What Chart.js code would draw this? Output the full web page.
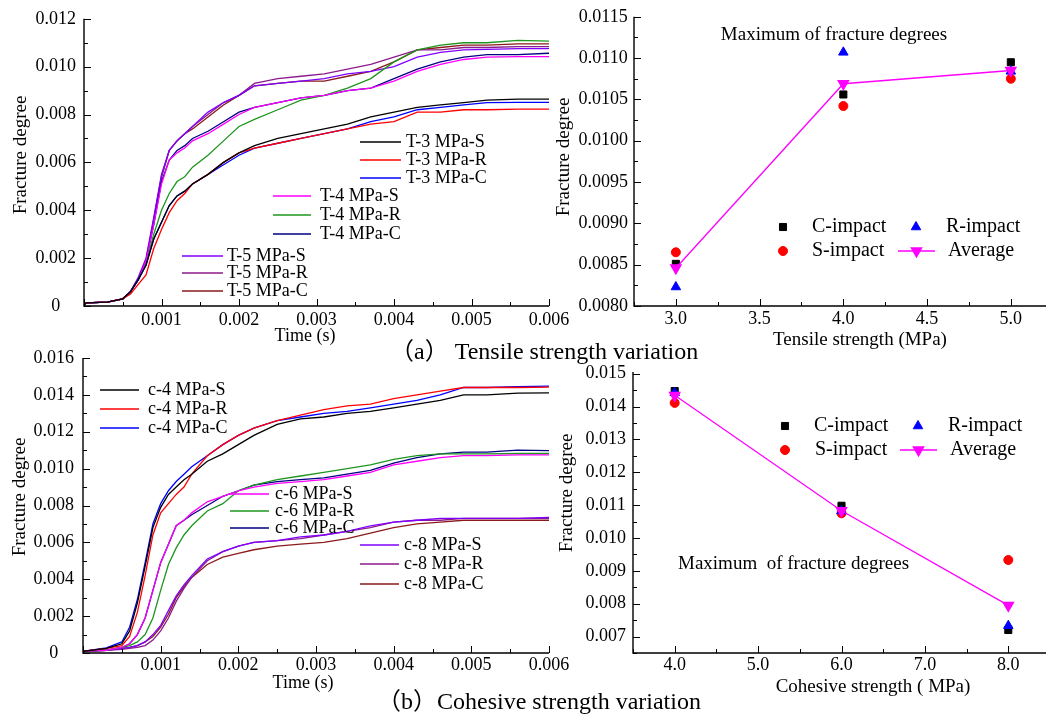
<!DOCTYPE html>
<html>
<head>
<meta charset="utf-8">
<title>Fracture degree</title>
<script src="https://cdn.jsdelivr.net/npm/chart.js@4.4.1/dist/chart.umd.min.js"></script>
<style>
  html, body { margin: 0; padding: 0; background: #fff; }
  body { position: relative; width: 1046px; height: 714px; overflow: hidden;
         font-family: 'Liberation Serif', 'Times New Roman', 'Noto Sans CJK SC', serif; color: #000; }
  canvas { position: absolute; left: 0; top: 0; }
  .txt { position: absolute; white-space: pre; line-height: 1; font-size: 19px; }
  .mid { transform: translate(-50%, -50%); }
  .lft { transform: translateY(-50%); }
  .up { transform: translate(-50%, -50%) rotate(-90deg); }
  .cap { font-size: 24px; }
</style>
</head>
<body>
<canvas id="tlChart" width="1060" height="714"></canvas>
<canvas id="trChart" width="1060" height="714"></canvas>
<canvas id="blChart" width="1060" height="714"></canvas>
<canvas id="brChart" width="1060" height="714"></canvas>

<div class="txt up" style="left:19px;top:155px">Fracture degree</div>
<div class="txt mid" style="left:305px;top:335px;font-size:18px">Time (s)</div>
<div class="txt up" style="left:562px;top:157px">Fracture degree</div>
<div class="txt mid" style="left:860px;top:338px">Tensile strength (MPa)</div>
<div class="txt mid" style="left:834px;top:33px">Maximum of fracture degrees</div>
<div class="txt lft cap" style="left:390px;top:351px">（a） Tensile strength variation</div>

<div class="txt up" style="left:18px;top:497px">Fracture degree</div>
<div class="txt mid" style="left:303px;top:682px;font-size:18px">Time (s)</div>
<div class="txt up" style="left:565px;top:493px">Fracture degree</div>
<div class="txt mid" style="left:873px;top:685px">Cohesive strength ( MPa)</div>
<div class="txt lft" style="left:678px;top:562px">Maximum  of fracture degrees</div>
<div class="txt lft cap" style="left:377px;top:701px">（b）Cohesive strength variation</div>

<script>
// sample times (s) shared by every curve
var timeSteps = [0, 0.00002, 0.0003, 0.0005, 0.0006, 0.0007, 0.0008, 0.0009, 0.001, 0.0011,
  0.0012, 0.0013, 0.0014, 0.0016, 0.0018, 0.002, 0.0022, 0.0025, 0.0028, 0.0031,
  0.0034, 0.0037, 0.004, 0.0043, 0.0046, 0.0049, 0.0052, 0.0056, 0.006];

// tensile strength runs
var t3S = [0, 0.00013, 0.00016, 0.0003, 0.0006, 0.0011, 0.0017, 0.0028, 0.0035, 0.0042,
  0.0046, 0.0048, 0.0051, 0.0055, 0.0060, 0.0064, 0.0067, 0.0070, 0.0072, 0.0074,
  0.0076, 0.0079, 0.0081, 0.0083, 0.0084, 0.0085, 0.0086, 0.00864, 0.00864];
var t3R = [0, 0.00013, 0.00016, 0.0003, 0.0005, 0.0009, 0.0013, 0.0024, 0.0032, 0.0039,
  0.0044, 0.0047, 0.0051, 0.0055, 0.0060, 0.0064, 0.0066, 0.0068, 0.0070, 0.0072,
  0.0074, 0.0076, 0.0077, 0.0081, 0.0081, 0.0082, 0.0082, 0.00823, 0.00823];
var t3C = [0, 0.00013, 0.00016, 0.0003, 0.0006, 0.0011, 0.0017, 0.0028, 0.0035, 0.0042,
  0.0046, 0.0048, 0.0051, 0.0055, 0.0059, 0.0063, 0.0066, 0.0068, 0.0070, 0.0072,
  0.0074, 0.0077, 0.0079, 0.0082, 0.0083, 0.0084, 0.0085, 0.00851, 0.00851];
var t4S = [0, 0.00013, 0.00016, 0.0003, 0.0006, 0.0011, 0.0019, 0.0034, 0.0051, 0.0061,
  0.0064, 0.0066, 0.0069, 0.0072, 0.0076, 0.0080, 0.0083, 0.0085, 0.0087, 0.0088,
  0.0090, 0.0091, 0.0094, 0.0098, 0.0101, 0.0103, 0.0104, 0.01042, 0.01042];
var t4R = [0, 0.00013, 0.00016, 0.0003, 0.0006, 0.0011, 0.0018, 0.0030, 0.0040, 0.0047,
  0.0052, 0.0054, 0.0058, 0.0063, 0.0069, 0.0075, 0.0078, 0.0082, 0.0086, 0.0088,
  0.0091, 0.0095, 0.0102, 0.0107, 0.0109, 0.0110, 0.0110, 0.0111, 0.01107];
var t4C = [0, 0.00013, 0.00016, 0.0003, 0.0006, 0.0011, 0.0019, 0.0034, 0.0052, 0.0061,
  0.0065, 0.0067, 0.0070, 0.0073, 0.0077, 0.0081, 0.0083, 0.0085, 0.0087, 0.0088,
  0.0090, 0.0091, 0.0095, 0.0099, 0.0102, 0.0104, 0.0105, 0.0105, 0.01056];
var t5S = [0, 0.00013, 0.00016, 0.0003, 0.0006, 0.0012, 0.0020, 0.0037, 0.0055, 0.0065,
  0.0069, 0.0072, 0.0075, 0.0081, 0.0085, 0.0088, 0.0092, 0.0093, 0.0094, 0.0095,
  0.0097, 0.0098, 0.0100, 0.0104, 0.0106, 0.0107, 0.01072, 0.01075, 0.01075];
var t5R = [0, 0.00013, 0.00016, 0.0003, 0.0006, 0.0011, 0.0019, 0.0036, 0.0054, 0.0065,
  0.0069, 0.0072, 0.0075, 0.0080, 0.0085, 0.0088, 0.0093, 0.0095, 0.0096, 0.0097,
  0.0099, 0.0101, 0.0104, 0.0107, 0.0107, 0.0108, 0.0108, 0.01084, 0.01084];
var t5C = [0, 0.00013, 0.00016, 0.0003, 0.0006, 0.0011, 0.0019, 0.0036, 0.0054, 0.0065,
  0.0069, 0.0072, 0.0074, 0.0079, 0.0084, 0.0088, 0.0092, 0.0093, 0.0094, 0.0094,
  0.0096, 0.0098, 0.0102, 0.0107, 0.0108, 0.0109, 0.0109, 0.01095, 0.01095];

// cohesive strength runs
var c4S = [0, 0.0001, 0.00025, 0.0005, 0.0012, 0.0027, 0.0047, 0.0068, 0.0079, 0.0086,
  0.0090, 0.0094, 0.0097, 0.0104, 0.0108, 0.0113, 0.0118, 0.0124, 0.0127, 0.0128,
  0.0130, 0.0131, 0.0133, 0.0135, 0.0137, 0.0140, 0.0140, 0.0141, 0.01411];
var c4R = [0, 0.0001, 0.00025, 0.0004, 0.0009, 0.0022, 0.0042, 0.0064, 0.0076, 0.0081,
  0.0086, 0.0090, 0.0097, 0.0107, 0.0113, 0.0118, 0.0122, 0.0126, 0.0129, 0.0132,
  0.0134, 0.0135, 0.0138, 0.0140, 0.0142, 0.0144, 0.0144, 0.0144, 0.01442];
var c4C = [0, 0.0001, 0.00028, 0.0006, 0.0014, 0.0029, 0.0049, 0.0070, 0.0081, 0.0088,
  0.0093, 0.0097, 0.0101, 0.0107, 0.0113, 0.0118, 0.0122, 0.0126, 0.0128, 0.0130,
  0.0131, 0.0133, 0.0135, 0.0137, 0.0140, 0.0144, 0.0144, 0.01445, 0.01447];
var c6S = [0, 0.0001, 0.00015, 0.0003, 0.0005, 0.0010, 0.0019, 0.0034, 0.0049, 0.0059,
  0.0069, 0.0072, 0.0076, 0.0082, 0.0085, 0.0088, 0.0090, 0.0092, 0.0093, 0.0094,
  0.0096, 0.0098, 0.0102, 0.0104, 0.0106, 0.0107, 0.0107, 0.01075, 0.01075];
var c6R = [0, 0.0001, 0.00015, 0.0003, 0.0004, 0.0006, 0.0010, 0.0019, 0.0034, 0.0048,
  0.0057, 0.0064, 0.0069, 0.0077, 0.0081, 0.0088, 0.0091, 0.0094, 0.0096, 0.0098,
  0.0100, 0.0102, 0.0105, 0.0107, 0.0108, 0.0108, 0.0108, 0.01082, 0.01082];
var c6C = [0, 0.0001, 0.00015, 0.0003, 0.0005, 0.0010, 0.0019, 0.0034, 0.0049, 0.0059,
  0.0069, 0.0072, 0.0075, 0.0080, 0.0085, 0.0088, 0.0091, 0.0093, 0.0094, 0.0095,
  0.0097, 0.0099, 0.0103, 0.0106, 0.0108, 0.0109, 0.0109, 0.0110, 0.01098];
var c8S = [0, 0.0001, 0.00015, 0.00025, 0.0003, 0.0004, 0.0006, 0.0010, 0.0015, 0.0023,
  0.0031, 0.0037, 0.0042, 0.0051, 0.0055, 0.0058, 0.0060, 0.0061, 0.0063, 0.0064,
  0.0066, 0.0069, 0.0071, 0.0072, 0.0073, 0.0073, 0.0073, 0.0073, 0.00735];
var c8R = [0, 0.0001, 0.00015, 0.0002, 0.00025, 0.0003, 0.0004, 0.0007, 0.0012, 0.0019,
  0.0028, 0.0035, 0.0041, 0.0050, 0.0055, 0.0058, 0.0060, 0.0061, 0.0062, 0.0064,
  0.0066, 0.0068, 0.0071, 0.0072, 0.0072, 0.0073, 0.0073, 0.0073, 0.0073];
var c8C = [0, 0.0001, 0.00015, 0.00025, 0.0003, 0.0004, 0.0006, 0.0009, 0.0014, 0.0021,
  0.0030, 0.0036, 0.0041, 0.0048, 0.0052, 0.0054, 0.0056, 0.0058, 0.0059, 0.0060,
  0.0062, 0.0065, 0.0068, 0.0070, 0.0071, 0.0072, 0.0072, 0.0072, 0.0072];

// maxima per impact position
var tensileLevels = [3.0, 4.0, 5.0];
var tensileC = [0.00851, 0.01056, 0.01095];
var tensileS = [0.00865, 0.01042, 0.01075];
var tensileR = [0.00823, 0.01107, 0.01084];
var tensileAvg = [0.00846, 0.01069, 0.01085];
var cohesiveLevels = [4.0, 6.0, 8.0];
var cohesiveC = [0.01447, 0.01098, 0.00720];
var cohesiveS = [0.01411, 0.01075, 0.00933];
var cohesiveR = [0.01442, 0.01082, 0.00733];
var cohesiveAvg = [0.01434, 0.01083, 0.00795];

// axis tick values
var timeTicks = [0.001, 0.002, 0.003, 0.004, 0.005, 0.006];
var tensileDegTicks = [0, 0.002, 0.004, 0.006, 0.008, 0.010, 0.012];
var cohesiveDegTicks = [0, 0.002, 0.004, 0.006, 0.008, 0.010, 0.012, 0.014, 0.016];
var tensileTicks = [3.0, 3.5, 4.0, 4.5, 5.0];
var tensileMaxTicks = [0.0080, 0.0085, 0.0090, 0.0095, 0.0100, 0.0105, 0.0110, 0.0115];
var cohesiveTicks = [4.0, 5.0, 6.0, 7.0, 8.0];
var cohesiveMaxTicks = [0.007, 0.008, 0.009, 0.010, 0.011, 0.012, 0.013, 0.014, 0.015];

var SERIF = "'Liberation Serif', 'Times New Roman', serif";
var CANVAS_W = 1060, CANVAS_H = 714, AXIS_W = 80, AXIS_H = 40;

Chart.defaults.font.family = SERIF;
Chart.defaults.color = '#000';

function curve(values) {
  return timeSteps.map(function (t, i) { return { x: t, y: values[i] }; });
}

function marks(levels, values) {
  return levels.map(function (v, i) { return { x: v, y: values[i] }; });
}

// padding that puts the plot area at fixed page coordinates
function frameFor(area) {
  return {
    left: area.left - AXIS_W,
    top: area.top,
    right: CANVAS_W - area.right,
    bottom: CANVAS_H - area.bottom - AXIS_H
  };
}

function axis(min, max, ticks, digits, isY, pad) {
  var a = {
    type: 'linear', min: min, max: max,
    grid: { display: false, drawTicks: false },
    border: { display: false },
    ticks: {
      color: '#000', font: { family: SERIF, size: 18 }, padding: pad,
      autoSkip: false, maxRotation: 0,
      callback: function (v) { return v === 0 ? '0' : v.toFixed(digits); }
    },
    afterBuildTicks: function (scale) {
      scale.ticks = ticks.map(function (v) { return { value: v }; });
    },
    afterFit: function (scale) {
      if (isY) scale.width = AXIS_W; else scale.height = AXIS_H;
    }
  };
  if (isY) a.ticks.crossAlign = 'center';
  return a;
}

// L-shaped frame with inward major and minor ticks
var axisFrame = {
  id: 'axisFrame',
  afterDraw: function (chart) {
    var ctx = chart.ctx, a = chart.chartArea;
    ctx.save();
    ctx.strokeStyle = '#000';
    ctx.lineWidth = 1.4;
    ctx.beginPath();
    ctx.moveTo(a.left, a.top);
    ctx.lineTo(a.left, a.bottom);
    ctx.lineTo(a.right, a.bottom);
    ctx.stroke();
    ctx.lineWidth = 1;
    ['x', 'y'].forEach(function (id) {
      var s = chart.scales[id];
      var vals = s.ticks.map(function (t) { return t.value; });
      var half = (vals[1] - vals[0]) / 2;
      for (var k = -2; k <= vals.length * 2 + 2; k++) {
        var v = vals[0] + k * half;
        if (v < s.min - 1e-9 || v > s.max + 1e-9) continue;
        var len = k % 2 === 0 ? 7 : 4;
        var p = Math.round(s.getPixelForValue(v)) + 0.5;
        ctx.beginPath();
        if (id === 'x') { ctx.moveTo(p, a.bottom); ctx.lineTo(p, a.bottom - len); }
        else { ctx.moveTo(a.left, p); ctx.lineTo(a.left + len, p); }
        ctx.stroke();
      }
    });
    ctx.restore();
  }
};

// free-standing legend entries, one per dataset
var seriesKey = {
  id: 'seriesKey',
  afterDraw: function (chart, args, opts) {
    var ctx = chart.ctx;
    ctx.save();
    ctx.font = opts.size + 'px ' + SERIF;
    ctx.textBaseline = 'middle';
    opts.items.forEach(function (it) {
      var ds = chart.data.datasets[it.i];
      var x1 = it.x1 !== undefined ? it.x1 : it.x;
      var x2 = it.x2 !== undefined ? it.x2 : it.x;
      if (ds.showLine !== false) {
        ctx.strokeStyle = ds.borderColor;
        ctx.lineWidth = ds.borderWidth;
        ctx.beginPath();
        ctx.moveTo(x1, it.y);
        ctx.lineTo(x2, it.y);
        ctx.stroke();
      }
      if (ds.pointRadius > 0) {
        ctx.fillStyle = ds.backgroundColor;
        ctx.strokeStyle = ds.backgroundColor;
        Chart.helpers.drawPoint(ctx, {
          pointStyle: ds.pointStyle, rotation: ds.pointRotation || 0,
          radius: ds.pointRadius, borderWidth: 1
        }, (x1 + x2) / 2, it.y);
      }
      ctx.fillStyle = '#000';
      ctx.fillText(ds.label, it.tx, it.y);
    });
    ctx.restore();
  }
};

function runLine(label, values, color) {
  return {
    label: label, data: curve(values), borderColor: color, backgroundColor: color,
    borderWidth: 1.3, pointRadius: 0, tension: 0
  };
}

function markSet(label, levels, values, color, style, radius, order, rotation) {
  return {
    label: label, data: marks(levels, values), showLine: false,
    backgroundColor: color, borderColor: color, borderWidth: 1,
    pointStyle: style, pointRadius: radius, pointRotation: rotation || 0, order: order
  };
}

function avgSet(levels, values) {
  return {
    label: 'Average', data: marks(levels, values), showLine: true,
    backgroundColor: '#ff00ff', borderColor: '#ff00ff', borderWidth: 1.3,
    pointStyle: 'triangle', pointRadius: 6, pointRotation: 180, order: 0
  };
}

function baseOptions(area, xAxis, yAxis, keySize, keyItems) {
  return {
    responsive: false, animation: false, devicePixelRatio: 1,
    layout: { padding: frameFor(area) },
    scales: { x: xAxis, y: yAxis },
    plugins: {
      legend: { display: false },
      tooltip: { enabled: false },
      seriesKey: { size: keySize, items: keyItems }
    }
  };
}

var RUN_COLORS = ['#000000', '#ff0000', '#0000ff', '#ff00ff', '#1e961e', '#000080',
  '#8000ff', '#8b1a8b', '#8b1a1a'];

// (a) time histories, tensile strength
new Chart(document.getElementById('tlChart'), {
  type: 'line',
  data: {
    datasets: [
      runLine('T-3 MPa-S', t3S, RUN_COLORS[0]),
      runLine('T-3 MPa-R', t3R, RUN_COLORS[1]),
      runLine('T-3 MPa-C', t3C, RUN_COLORS[2]),
      runLine('T-4 MPa-S', t4S, RUN_COLORS[3]),
      runLine('T-4 MPa-R', t4R, RUN_COLORS[4]),
      runLine('T-4 MPa-C', t4C, RUN_COLORS[5]),
      runLine('T-5 MPa-S', t5S, RUN_COLORS[6]),
      runLine('T-5 MPa-R', t5R, RUN_COLORS[7]),
      runLine('T-5 MPa-C', t5C, RUN_COLORS[8])
    ]
  },
  options: baseOptions({ left: 84, top: 12, right: 549, bottom: 306 },
    axis(0, 0.006, timeTicks, 3, false, 3),
    axis(0, 0.012, tensileDegTicks, 3, true, 8),
    18, [
      { i: 0, x1: 360, x2: 401, tx: 406, y: 142 },
      { i: 1, x1: 360, x2: 401, tx: 406, y: 160 },
      { i: 2, x1: 360, x2: 401, tx: 406, y: 178 },
      { i: 3, x1: 273, x2: 311, tx: 320, y: 196 },
      { i: 4, x1: 273, x2: 311, tx: 320, y: 215 },
      { i: 5, x1: 273, x2: 311, tx: 320, y: 234 },
      { i: 6, x1: 182, x2: 223, tx: 227, y: 256 },
      { i: 7, x1: 182, x2: 223, tx: 227, y: 273 },
      { i: 8, x1: 182, x2: 223, tx: 227, y: 291 }
    ]),
  plugins: [axisFrame, seriesKey]
});

// (a) maxima vs tensile strength
new Chart(document.getElementById('trChart'), {
  type: 'scatter',
  data: {
    datasets: [
      markSet('C-impact', tensileLevels, tensileC, '#000000', 'rect', 5, 3),
      markSet('S-impact', tensileLevels, tensileS, '#ff0000', 'circle', 4.5, 2),
      markSet('R-impact', tensileLevels, tensileR, '#0000ff', 'triangle', 5.5, 1),
      avgSet(tensileLevels, tensileAvg)
    ]
  },
  options: baseOptions({ left: 634, top: 13, right: 1056.5, bottom: 306 },
    axis(2.75, 5.25, tensileTicks, 1, false, 2),
    axis(0.0080, 0.0115, tensileMaxTicks, 4, true, 6),
    20, [
      { i: 0, x: 783, tx: 812, y: 227 },
      { i: 2, x: 916, tx: 946, y: 227 },
      { i: 1, x: 783, tx: 812, y: 251 },
      { i: 3, x1: 898, x2: 935, tx: 948, y: 251 }
    ]),
  plugins: [axisFrame, seriesKey]
});

// (b) time histories, cohesive strength
new Chart(document.getElementById('blChart'), {
  type: 'line',
  data: {
    datasets: [
      runLine('c-4 MPa-S', c4S, RUN_COLORS[0]),
      runLine('c-4 MPa-R', c4R, RUN_COLORS[1]),
      runLine('c-4 MPa-C', c4C, RUN_COLORS[2]),
      runLine('c-6 MPa-S', c6S, RUN_COLORS[3]),
      runLine('c-6 MPa-R', c6R, RUN_COLORS[4]),
      runLine('c-6 MPa-C', c6C, RUN_COLORS[5]),
      runLine('c-8 MPa-S', c8S, RUN_COLORS[6]),
      runLine('c-8 MPa-R', c8R, RUN_COLORS[7]),
      runLine('c-8 MPa-C', c8C, RUN_COLORS[8])
    ]
  },
  options: baseOptions({ left: 83, top: 358, right: 549, bottom: 653 },
    axis(0, 0.006, timeTicks, 3, false, 1),
    axis(0, 0.016, cohesiveDegTicks, 3, true, 9),
    18, [
      { i: 0, x1: 100, x2: 139, tx: 148, y: 390 },
      { i: 1, x1: 100, x2: 139, tx: 148, y: 409 },
      { i: 2, x1: 100, x2: 139, tx: 148, y: 428 },
      { i: 3, x1: 230, x2: 269, tx: 275, y: 494 },
      { i: 4, x1: 230, x2: 269, tx: 275, y: 511 },
      { i: 5, x1: 230, x2: 269, tx: 275, y: 528 },
      { i: 6, x1: 360, x2: 399, tx: 404, y: 545 },
      { i: 7, x1: 360, x2: 399, tx: 404, y: 564 },
      { i: 8, x1: 360, x2: 399, tx: 404, y: 584 }
    ]),
  plugins: [axisFrame, seriesKey]
});

// (b) maxima vs cohesive strength
new Chart(document.getElementById('brChart'), {
  type: 'scatter',
  data: {
    datasets: [
      markSet('C-impact', cohesiveLevels, cohesiveC, '#000000', 'rect', 5, 3),
      markSet('S-impact', cohesiveLevels, cohesiveS, '#ff0000', 'circle', 4.5, 2),
      markSet('R-impact', cohesiveLevels, cohesiveR, '#0000ff', 'triangle', 5.5, 1),
      avgSet(cohesiveLevels, cohesiveAvg)
    ]
  },
  options: baseOptions({ left: 633, top: 372, right: 1050, bottom: 653 },
    axis(3.5, 8.5, cohesiveTicks, 1, false, 1),
    axis(0.0065, 0.01505, cohesiveMaxTicks, 3, true, 7),
    20, [
      { i: 0, x: 785, tx: 814, y: 426 },
      { i: 2, x: 918, tx: 948, y: 426 },
      { i: 1, x: 785, tx: 815, y: 450 },
      { i: 3, x1: 900, x2: 937, tx: 950, y: 450 }
    ]),
  plugins: [axisFrame, seriesKey]
});
</script>
</body>
</html>
